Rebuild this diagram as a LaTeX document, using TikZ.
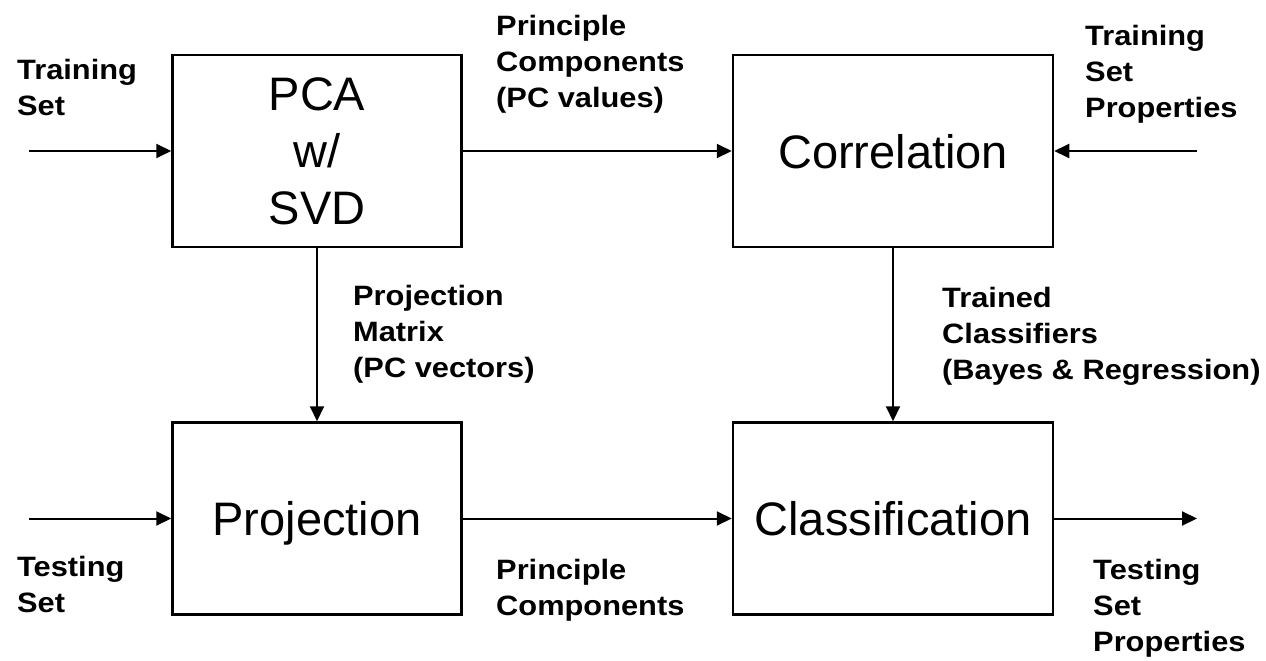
\documentclass[tikz,border=0pt]{standalone}
\usepackage{fontspec}
\setmainfont{Liberation Sans}
\newfontfamily\labfont{Liberation Sans}[FakeStretch=1.1]
\usetikzlibrary{arrows.meta}

\begin{document}
\begin{tikzpicture}[x=1pt,y=-1pt,
  block/.style={draw, line width=2.5pt, minimum height=192pt, inner sep=0pt, align=center, font=\fontsize{47}{57}\selectfont},
  oneline/.style={text height=34pt, text depth=0pt},
  flow/.style={line width=2pt, -{Triangle[length=15pt,width=14pt]}},
  lbl/.style={anchor=north west, inner sep=0pt, align=left, font=\labfont\bfseries\fontsize{28}{36}\selectfont}]
\useasboundingbox (0,0) rectangle (1266,661);
% blocks
\node[block, minimum width=289pt] (pca) at (317,151) {PCA\\w/\\SVD};
\node[block, oneline, minimum width=320pt] (corr) at (893,151) {Correlation};
\node[block, oneline, minimum width=289pt] (proj) at (317,518.5) {Projection};
\node[block, oneline, minimum width=320pt] (class) at (893,518.5) {Classification};
% free ends
\coordinate (trainin) at (29,151);
\coordinate (propin) at (1197,151);
\coordinate (testin) at (29,518.5);
\coordinate (propout) at (1197,518.5);
% connectors
\draw[flow] (trainin) -- (pca);
\draw[flow] (pca) -- (corr);
\draw[flow] (propin) -- (corr);
\draw[flow] (pca) -- (proj);
\draw[flow] (corr) -- (class);
\draw[flow] (testin) -- (proj);
\draw[flow] (proj) -- (class);
\draw[flow] (class) -- (propout);
% labels
\node[lbl] (ltrain) at (17,59) {Training\\Set};
\node[lbl] (lpcval) at (496,15) {Principle\\Components\\(PC values)};
\node[lbl] (ltrprop) at (1085,25) {Training\\Set\\Properties};
\node[lbl] (lmatrix) at (353,285) {Projection\\Matrix\\(PC vectors)};
\node[lbl] (lclassif) at (942,287) {Trained\\Classifiers\\(Bayes \& Regression)};
\node[lbl] (ltest) at (17,556) {Testing\\Set};
\node[lbl] (lpc) at (496,559) {Principle\\Components};
\node[lbl] (ltsprop) at (1093,559) {Testing\\Set\\Properties};
\end{tikzpicture}
\end{document}
